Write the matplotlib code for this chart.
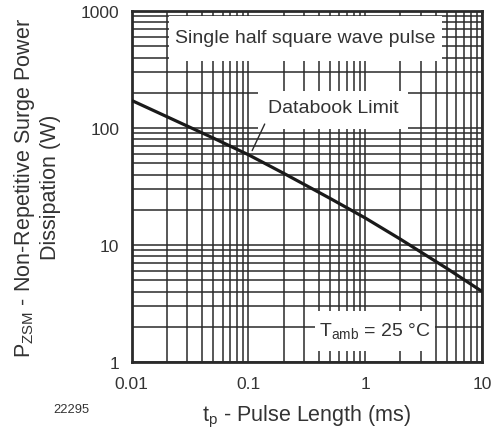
import numpy as np
import matplotlib
matplotlib.use("Agg")
import matplotlib.pyplot as plt
from matplotlib.patches import Rectangle

plt.rcParams['font.family'] = ['Liberation Sans', 'DejaVu Sans']
plt.rcParams['mathtext.default'] = 'regular'

# surge power limit curve
pulse_ms = [0.01, 0.02, 0.05, 0.1, 0.2, 0.5, 1, 2, 5, 10]
power_w = [172, 125, 82, 59, 41, 25, 17, 11.2, 6.3, 4.0]

x_ticks = [0.01, 0.1, 1, 10]
x_labels = ['0.01', '0.1', '1', '10']
y_ticks = [1, 10, 100, 1000]
y_labels = ['1', '10', '100', '1000']

ink = '#2a2a2a'
txt = '#333333'

fig = plt.figure(figsize=(4.93, 4.35), dpi=100)
ax = fig.add_axes([0.267, 0.1655, 0.711, 0.807])

ax.set_xscale('log')
ax.set_yscale('log')
ax.set_xlim(0.01, 10)
ax.set_ylim(1, 1000)

ax.grid(True, which='both', color=ink, linewidth=1.1)
ax.set_axisbelow(True)

ax.set_xticks(x_ticks)
ax.set_xticklabels(x_labels)
ax.set_yticks(y_ticks)
ax.set_yticklabels(y_labels)
ax.tick_params(which='both', length=0, labelsize=12.5, colors=txt)
ax.tick_params(axis='x', pad=10)
ax.tick_params(axis='y', pad=9)
for s in ax.spines.values():
    s.set_linewidth(2.0)
    s.set_color(ink)

# white masks behind the labels (grid is cut there)
for (x0, y0, w, h) in [(0.108, 0.857, 0.777, 0.129),
                       (0.361, 0.664, 0.428, 0.108),
                       (0.524, 0.031, 0.342, 0.114)]:
    ax.add_patch(Rectangle((x0, y0), w, h, transform=ax.transAxes,
                           facecolor='white', edgecolor='none', zorder=1))

ax.plot(pulse_ms, power_w, color='#1a1a1a', linewidth=2.3, zorder=3,
        solid_capstyle='butt')

ax.text(0.495, 0.924, 'Single half square wave pulse', transform=ax.transAxes,
        ha='center', va='center', fontsize=14, color=txt, zorder=4)
ax.text(0.575, 0.726, 'Databook Limit', transform=ax.transAxes,
        ha='center', va='center', fontsize=14, color=txt, zorder=4)
ax.text(0.695, 0.092, 'T$_{amb}$ = 25 °C', transform=ax.transAxes,
        ha='center', va='center', fontsize=14, color=txt, zorder=4)

# pointer from label to curve
px = 0.105
py = 10 ** np.interp(np.log10(px), np.log10(pulse_ms), np.log10(power_w))
ax.annotate('', xy=(px, py * 1.06), xytext=(0.383, 0.685),
            textcoords='axes fraction',
            arrowprops=dict(arrowstyle='-', color=ink, linewidth=1.0),
            zorder=4)

ax.set_xlabel('t$_p$ - Pulse Length (ms)', fontsize=15.5, color=txt,
              labelpad=9)
fig.text(0.074, 0.569, 'P$_{ZSM}$ - Non-Repetitive Surge Power\nDissipation (W)',
         rotation=90, ha='center', va='center', fontsize=15.5, color=txt,
         linespacing=1.15)
fig.text(0.145, 0.057, '22295', ha='center', va='center', fontsize=9.3,
         color=txt)

fig.savefig('out.png', dpi=100)
